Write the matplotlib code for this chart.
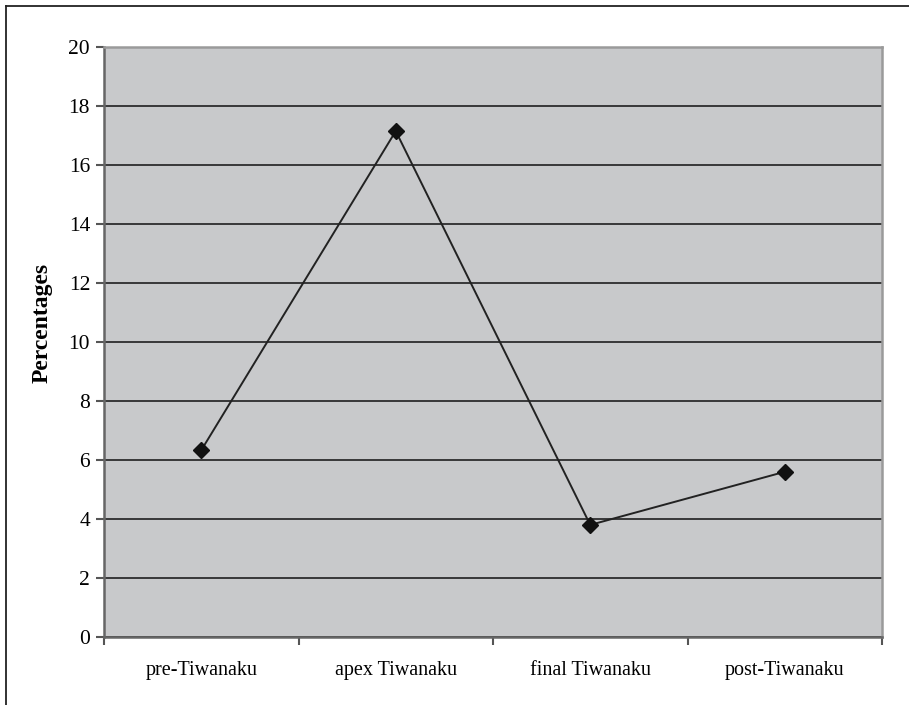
import matplotlib
matplotlib.use("Agg")
from matplotlib import pyplot as plt
from matplotlib.lines import Line2D

periods = ["pre-Tiwanaku", "apex Tiwanaku", "final Tiwanaku", "post-Tiwanaku"]
percentages = [6.33, 17.15, 3.8, 5.6]
y_ticks = [0, 2, 4, 6, 8, 10, 12, 14, 16, 18, 20]

plt.rcParams['font.family'] = ['Liberation Serif', 'DejaVu Serif']

fig = plt.figure(figsize=(9.09, 7.05), dpi=100)
ax = fig.add_axes([104/909, 1-637/705, (882-104)/909, (637-47)/705])
ax.set_facecolor("#c8c9cb")

x = list(range(len(periods)))
ax.plot(x, percentages, color="#222222", linewidth=1.4, marker="D",
        markersize=8, markerfacecolor="#111111", markeredgecolor="#111111", zorder=3)

ax.set_xlim(-0.5, len(periods) - 0.5)
ax.set_ylim(0, 20)
ax.set_yticks(y_ticks)
ax.yaxis.grid(True, color="#383838", linewidth=1.4)
ax.set_axisbelow(True)

# category labels centred, tick marks on the boundaries (Excel style)
ax.set_xticks([i - 0.5 for i in range(len(periods) + 1)])
ax.set_xticklabels([])
ax.set_xticks(x, minor=True)
ax.set_xticklabels(periods, minor=True, fontsize=14.5)
ax.tick_params(axis="x", which="minor", length=0, pad=17)
ax.tick_params(axis="x", which="major", length=6, width=1.5, color="#555555", direction="out")
ax.tick_params(axis="y", length=6, width=1.5, color="#555555", labelsize=15.5, pad=4)

for s in ["left", "bottom"]:
    ax.spines[s].set_color("#666666")
    ax.spines[s].set_linewidth(1.8)
for s in ["top", "right"]:
    ax.spines[s].set_color("#9a9a9a")
    ax.spines[s].set_linewidth(1.8)

ax.set_ylabel("Percentages", fontsize=17, fontweight="bold")
ax.yaxis.set_label_coords(-51/778, (637-323)/590)

# frame lines around the figure (top and left)
fig.add_artist(Line2D([6/909, 1], [1-6/705, 1-6/705], color="#222222", linewidth=1.3, transform=fig.transFigure))
fig.add_artist(Line2D([6/909, 6/909], [0, 1-6/705], color="#222222", linewidth=1.3, transform=fig.transFigure))

fig.savefig("out.png", dpi=100)
